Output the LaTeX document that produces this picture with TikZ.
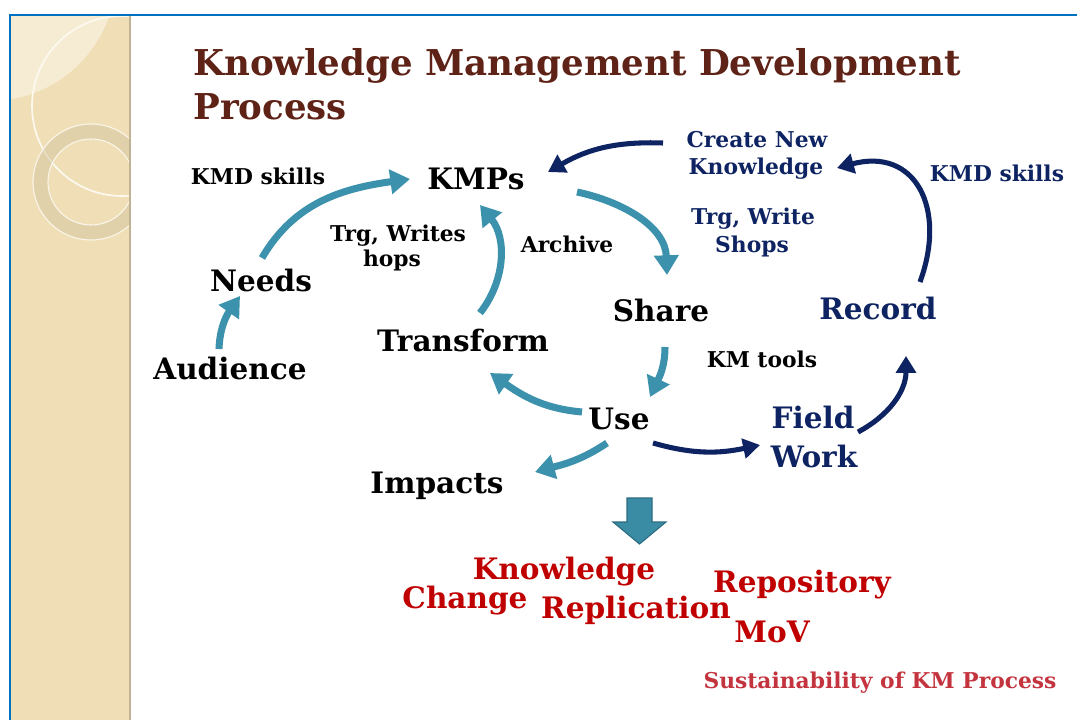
\documentclass[tikz,border=0pt]{standalone}
\usepackage{fontspec}
\setmainfont{DejaVu Serif}
\usetikzlibrary{arrows.meta}

\definecolor{kmteal}{RGB}{60,146,172}
\definecolor{kmnavy}{RGB}{14,36,98}
\definecolor{kmbrown}{RGB}{94,34,22}
\definecolor{kmred}{RGB}{192,0,0}
\definecolor{kmrose}{RGB}{196,52,62}
\definecolor{kmblue}{RGB}{0,112,192}
\definecolor{kmsand}{RGB}{240,223,182}

\tikzset{
  headline/.style={font=\bfseries\fontsize{25.3}{29}\selectfont, text=kmbrown, inner sep=0pt, anchor=base west},
  stage/.style={font=\bfseries\fontsize{21}{25}\selectfont, inner sep=0pt, anchor=base},
  note/.style={font=\bfseries\fontsize{15.5}{18}\selectfont, inner sep=0pt, anchor=base},
  outcome/.style={stage, text=kmred},
  flow/.style={draw=kmteal, line width=5pt, -{Triangle[length=14pt,width=17pt]}},
  navyflow/.style={draw=kmnavy, line width=3.6pt, -{Triangle[length=12pt,width=14pt]}}
}

\begin{document}
\begin{tikzpicture}[x=0.025cm, y=0.025cm]
  \useasboundingbox (0,0) rectangle (1077,-720);
  \fill[white] (0,0) rectangle (1077,-720);

  % sand strip with rings
  \fill[kmsand] (11,-16) rectangle (130,-720);
  \begin{scope}
    \clip (11,-16) rectangle (130,-720);
    \fill[kmsand!60!white] (-10,25) circle (126);
    \draw[white!80!kmsand, line width=1.2pt] (122,-106) circle (90);
    \draw[kmsand!88!black, line width=10.6pt, opacity=0.5] (91,-182) circle (50.5);
    \draw[white!70!kmsand, line width=0.8pt] (91,-182) circle (43);
    \draw[white!70!kmsand, line width=0.8pt] (91,-182) circle (58);
  \end{scope}
  \draw[kmsand!80!black, line width=0.8pt] (130,-16) -- (130,-720);
  \draw[kmblue, line width=1.6pt] (1077,-15) -- (10,-15) -- (10,-720);

  % title
  \node[headline] (title1) at (193,-76) {Knowledge Management Development};
  \node[headline] (title2) at (193,-120) {Process};

  % teal cycle
  \node[note] (kmd1) at (258,-185) {KMD skills};
  \node[stage] (kmps) at (476,-190) {KMPs};
  \node[note] (trg1) at (398,-242) {Trg, Writes};
  \node[note] (trg2) at (392,-267) {hops};
  \node[note] (archive) at (567,-253) {Archive};
  \node[stage] (needs) at (261,-292) {Needs};
  \node[stage] (audience) at (230,-380) {Audience};
  \node[stage] (transform) at (463,-352) {Transform};
  \node[stage] (share) at (661,-322) {Share};
  \node[note] (kmtools) at (762,-368) {KM tools};
  \node[stage] (use) at (619,-430) {Use};
  \node[stage] (impacts) at (437,-493) {Impacts};

  % navy cycle
  \node[note, text=kmnavy] (create1) at (757,-148) {Create New};
  \node[note, text=kmnavy] (create2) at (756,-175) {Knowledge};
  \node[note, text=kmnavy] (kmd2) at (997,-182) {KMD skills};
  \node[note, text=kmnavy] (trgw1) at (753,-225) {Trg, Write};
  \node[note, text=kmnavy] (trgw2) at (752,-253) {Shops};
  \node[stage, text=kmnavy] (record) at (878,-320) {Record};
  \node[stage, text=kmnavy] (field) at (813,-429) {Field};
  \node[stage, text=kmnavy] (work) at (814,-467) {Work};

  % outcomes
  \node[outcome] (know) at (564,-579) {Knowledge};
  \node[outcome] (change) at (465,-608) {Change};
  \node[outcome] (replic) at (636,-618) {Replication};
  \node[outcome] (repos) at (802,-592) {Repository};
  \node[outcome] (mov) at (772,-642) {MoV};
  \node[note, text=kmrose] (sustain) at (880,-688) {Sustainability of KM Process};

  % teal arrows
  \draw[flow] ([shift={(-11,31)}]audience.base) to[out=88,in=-125] ([shift={(-21,-4)}]needs.base);
  \draw[flow] ([shift={(1,34)}]needs.base) to[out=60,in=188] ([shift={(-66,11)}]kmps.base);
  \draw[flow] ([shift={(17,39)}]transform.base) to[out=52,in=-51] ([shift={(4,-15)}]kmps.base);
  \draw[flow] ([shift={(101,-2)}]kmps.base) to[out=-12,in=92] ([shift={(6,47)}]share.base);
  \draw[flow] ([shift={(4,-25)}]share.base) to[out=-90,in=65] ([shift={(31,33)}]use.base);
  \draw[flow] ([shift={(-37,18)}]use.base) to[out=175,in=-35] ([shift={(27,-21)}]transform.base);
  \draw[flow] ([shift={(-12,-13)}]use.base) to[out=-146,in=15] ([shift={(98,21)}]impacts.base);

  % navy arrows
  \draw[navyflow] ([shift={(34,-13)}]use.base) to[out=-16,in=192] ([shift={(-53,-16)}]field.base);
  \draw[navyflow] ([shift={(45,-3)}]field.base) to[out=28,in=-90] ([shift={(28,-36)}]record.base);
  \draw[navyflow] ([shift={(42,38)}]record.base) to[out=70,in=15,looseness=1.45] ([shift={(81,7)}]create2.base);
  \draw[navyflow] ([shift={(-94,5)}]create1.base) to[out=178,in=30] ([shift={(72,18)}]kmps.base);

  % block arrow
  \filldraw[fill=kmteal!96!black, draw=kmteal!75!black, line width=0.8pt]
    (627,-498) -- (652,-498) -- (652,-522) -- (666,-522) -- (639.5,-544)
    -- (613,-522) -- (627,-522) -- cycle;
\end{tikzpicture}
\end{document}
